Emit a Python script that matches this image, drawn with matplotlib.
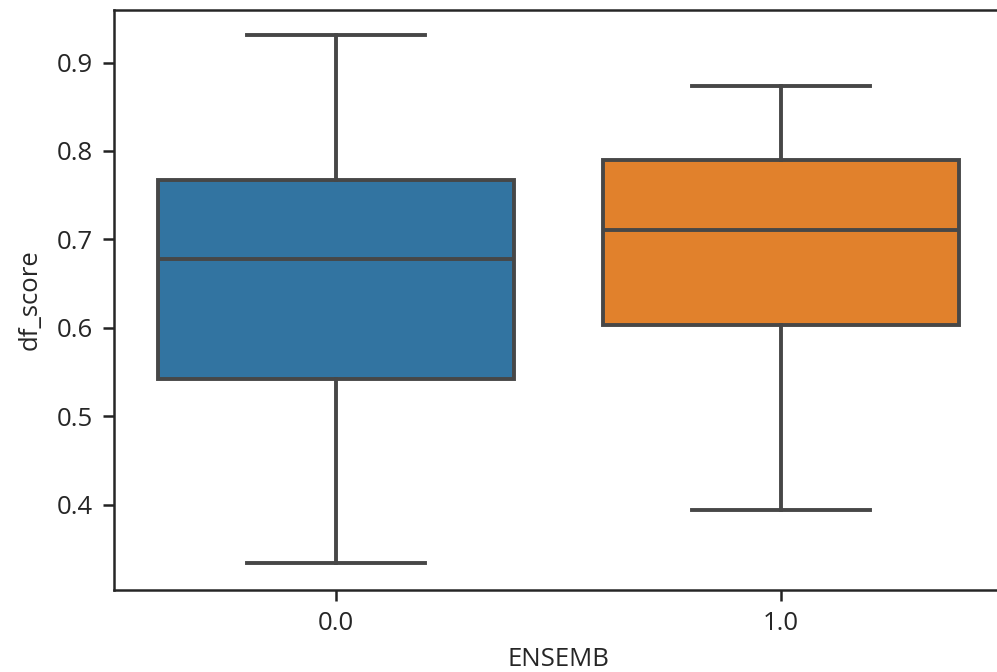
import matplotlib
matplotlib.use("Agg")
import matplotlib.pyplot as plt

plt.rcParams['font.family'] = ['Open Sans', 'DejaVu Sans']

categories = ["0.0", "1.0"]
whislo = [0.334, 0.394]
q1 = [0.5425, 0.6036]
med = [0.678, 0.711]
q3 = [0.7676, 0.790]
whishi = [0.9317, 0.874]
colors = ["#3274a1", "#e1812c"]

fig = plt.figure(figsize=(9.97, 6.72), dpi=100)
ax = fig.add_axes([114/997, 82/672, 889/997, 580/672])

stats = []
for i, c in enumerate(categories):
    stats.append(dict(label=c, whislo=whislo[i], q1=q1[i], med=med[i],
                      q3=q3[i], whishi=whishi[i], fliers=[]))

lc = "#474747"
lw = 2.8
bp = ax.bxp(stats, positions=range(len(categories)), widths=0.8,
            patch_artist=True, showfliers=False,
            boxprops=dict(edgecolor=lc, linewidth=lw),
            medianprops=dict(color=lc, linewidth=lw),
            whiskerprops=dict(color=lc, linewidth=lw),
            capprops=dict(color=lc, linewidth=lw))
for patch, col in zip(bp["boxes"], colors):
    patch.set_facecolor(col)

ax.set_xlim(-0.5, 1.5)
ax.set_ylim(0.3033, 0.9595)
ax.set_yticks([0.4, 0.5, 0.6, 0.7, 0.8, 0.9])
ax.set_xticks([0, 1])
ax.set_xticklabels(categories)
ax.tick_params(labelsize=18.5, length=8, width=1.8, pad=7, colors="#222222", labelcolor="#262626")
for s in ax.spines.values():
    s.set_linewidth(1.8)
    s.set_color("#262626")
ax.set_xlabel("ENSEMB", fontsize=18.5, color="#262626", labelpad=8)
ax.set_ylabel("df_score", fontsize=18.5, color="#262626", labelpad=10)

fig.savefig("out.png", dpi=100)
